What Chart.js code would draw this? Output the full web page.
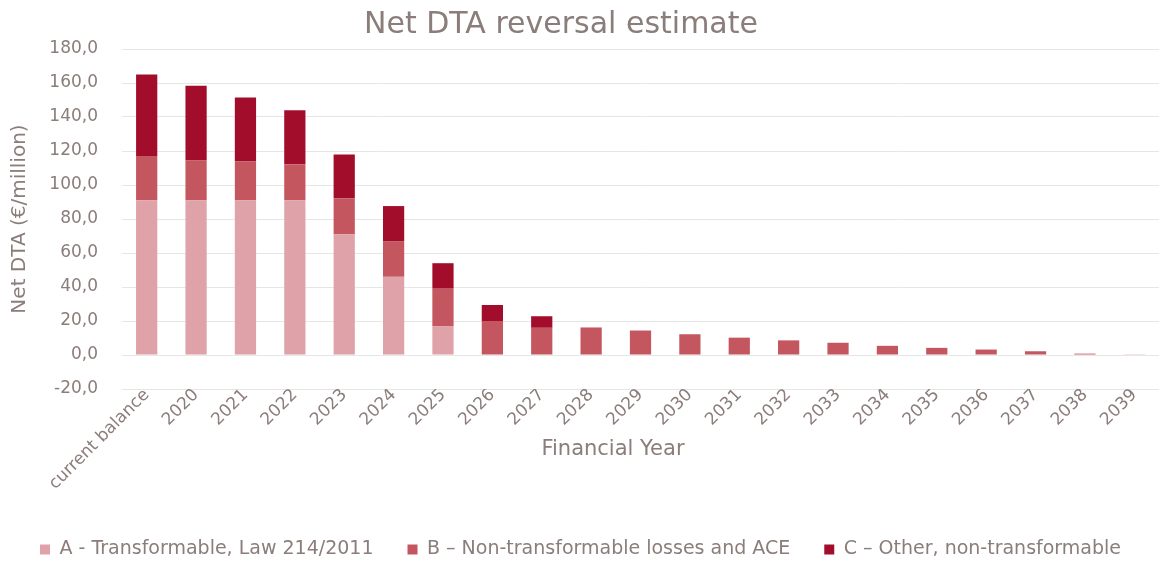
<!DOCTYPE html>
<html>
<head>
<meta charset="utf-8">
<script src="https://cdn.jsdelivr.net/npm/chart.js@4/dist/chart.umd.min.js"></script>
<style>
    html, body { margin: 0; padding: 0; background: #ffffff; }
    #wrap { width: 1161px; height: 561px; }
</style>
</head>
<body>
<div id="wrap"><canvas id="dta-chart" width="1161" height="561"></canvas></div>
<script>
/* years on the x axis */
const yearLabels = ["current balance", "2020", "2021", "2022", "2023", "2024", "2025", "2026",
    "2027", "2028", "2029", "2030", "2031", "2032", "2033", "2034", "2035", "2036", "2037", "2038", "2039"];

/* stacked components, €/million */
const transformableA = [91, 91, 91, 91, 71, 46, 17, 0, 0, 0, 0, 0, 0, 0, 0, 0, 0, 0, 0, 0, 0];
const nonTransformableB = [26, 23.6, 23, 21, 21, 21, 22, 20, 16, 16.2, 14.4, 12.2, 10.2, 8.6, 7.2, 5.4, 4.2, 3.2, 2.2, 0.8, 0.2];
const otherC = [48, 43.8, 37.4, 32, 26, 20.6, 15, 9.4, 6.8, 0, 0, 0, 0, 0, 0, 0, 0, 0, 0, 0, 0];

const seriesNames = [
    "A - Transformable, Law 214/2011",
    "B \u2013 Non-transformable losses and ACE",
    "C \u2013 Other, non-transformable"
];
const seriesColors = ["#dea2a8", "#c3565f", "#a30d2c"];

const chartTitle = "Net DTA reversal estimate";
const xAxisTitle = "Financial Year";

const textColor = "#8a7d7a";
const fontFamily = "'DejaVu Sans', sans-serif";

// the chart title and the x axis title sit a bit left of centre, so draw them by hand
const titleTexts = {
    id: "titleTexts",
    afterDraw(chart) {
        const c = chart.ctx;
        c.save();
        c.fillStyle = textColor;
        c.textAlign = "center";
        c.textBaseline = "middle";
        c.font = `30px ${fontFamily}`;
        c.fillText(chartTitle, 561, 25);
        c.font = `21px ${fontFamily}`;
        c.fillText(xAxisTitle, 613, 450);
        c.restore();
    }
};

const ctx = document.getElementById("dta-chart").getContext("2d");

const dtaChart = new Chart(ctx, {
    type: "bar",
    data: {
        labels: yearLabels,
        datasets: [transformableA, nonTransformableB, otherC].map((values, i) => ({
            label: seriesNames[i],
            data: values,
            backgroundColor: seriesColors[i],
            borderWidth: 0,
            barPercentage: 0.43,
            categoryPercentage: 1.0
        }))
    },
    plugins: [titleTexts],
    options: {
        responsive: false,
        animation: false,
        layout: { padding: { left: 2, right: 2, top: 49, bottom: -8 } },
        plugins: {
            title: { display: false },
            legend: {
                position: "bottom",
                labels: {
                    color: textColor,
                    font: { family: fontFamily, size: 19 },
                    boxWidth: 10,
                    boxHeight: 10,
                    padding: 34
                }
            },
            tooltip: { enabled: false }
        },
        scales: {
            x: {
                stacked: true,
                grid: { display: false },
                border: { display: false },
                // rotated labels run into the title area, so pin the axis height
                afterFit: scale => { scale.height = 117; },
                ticks: {
                    color: textColor,
                    font: { family: fontFamily, size: 17 },
                    padding: -12,
                    maxRotation: 45,
                    minRotation: 45,
                    autoSkip: false
                }
            },
            y: {
                stacked: true,
                min: -20,
                max: 180,
                border: { display: false },
                grid: { color: "#e6e6e6", drawTicks: false },
                afterFit: scale => { scale.width = 120; },
                ticks: {
                    stepSize: 20,
                    color: textColor,
                    padding: 24,
                    font: { family: fontFamily, size: 17 },
                    callback: value => value.toFixed(1).replace(".", ",")
                },
                title: {
                    display: true,
                    text: "Net DTA (\u20ac/million)",
                    color: textColor,
                    font: { family: fontFamily, size: 20 },
                    padding: { top: 6, bottom: 0 }
                }
            }
        }
    }
});
</script>
</body>
</html>
